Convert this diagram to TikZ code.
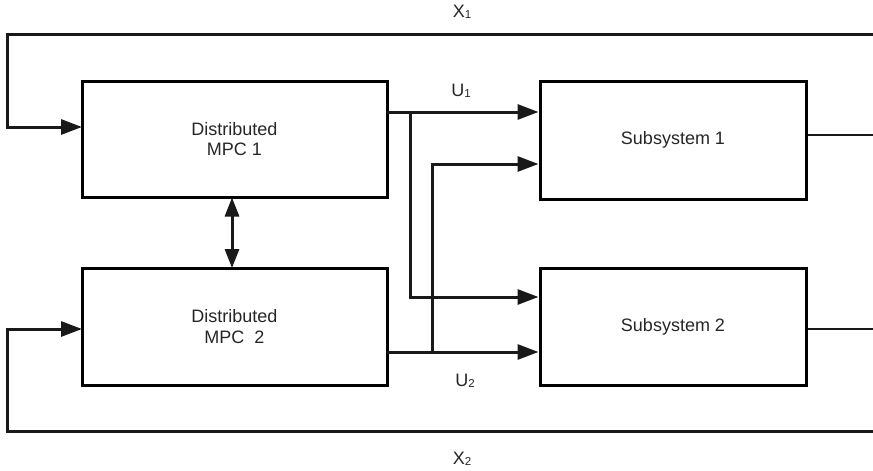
\documentclass[tikz,border=0pt]{standalone}
\usepackage{fontspec}
\setmainfont{Liberation Sans}
\usetikzlibrary{arrows.meta}
\newcommand{\sbs}[1]{{\fontsize{11.5}{11.5}\selectfont\raisebox{-1.5pt}{#1}}}
\begin{document}
\begin{tikzpicture}[x=1pt,y=-1pt,
  blk/.style={draw, line width=3pt, minimum width=#1, inner sep=0pt, align=center,
    font=\fontsize{18}{20.5}\selectfont, text=black!85},
  wire/.style={line width=3pt, draw=black!90},
  arr/.style={wire, -{Triangle[length=21pt,width=15pt]}},
  dbl/.style={wire, {Triangle[length=19pt,width=14pt]}-{Triangle[length=19pt,width=14pt]}},
  lbl/.style={font=\fontsize{18}{20}\selectfont, text=black!85, inner sep=0pt}]
\useasboundingbox (0,0) rectangle (873,471);
\node[blk=305pt, minimum height=116pt] (mpc1) at (234.5,139) {Distributed\\MPC 1};
\node[blk=305pt, minimum height=117pt] (mpc2) at (234.5,326.5) {Distributed\\MPC\ \ 2};
\node[blk=266pt, minimum height=118pt] (sub1) at (673,140) {Subsystem 1};
\node[blk=266pt, minimum height=117pt] (sub2) at (673,326.5) {Subsystem 2};
% feedback X1
\coordinate (x1r) at (875,34);
\coordinate (x1l) at (7,34);
\coordinate (in1) at (82,127);
\draw[arr] (x1r) -- (x1l) |- (in1);
% feedback X2
\coordinate (x2r) at (875,431);
\coordinate (x2l) at (7,431);
\coordinate (in2) at (82,329);
\draw[arr] (x2r) -- (x2l) |- (in2);
% outputs
\coordinate (o1) at (875,135);
\coordinate (o2) at (875,329);
\draw[wire, line width=2.6pt] (sub1.east |- o1) -- (o1);
\draw[wire, line width=2.6pt] (sub2.east |- o2) -- (o2);
% U1
\coordinate (u1s) at (387,112);
\coordinate (u1b) at (410,112);
\coordinate (u1d) at (410,297);
\draw[arr] (u1s) -- (sub1.west |- u1s);
\draw[arr] (u1b) -- (u1d) -- (sub2.west |- u1d);
% U2
\coordinate (u2s) at (387,352);
\coordinate (u2b) at (432,352);
\coordinate (u2u) at (432,164);
\draw[arr] (u2s) -- (sub2.west |- u2s);
\draw[arr] (u2b) -- (u2u) -- (sub1.west |- u2u);
% MPC exchange
\coordinate (d1) at (232,197.5);
\coordinate (d2) at (232,268);
\draw[dbl] (d1) -- (d2);
% labels
\node[lbl] (lx1) at (462,12) {X\sbs{1}};
\node[lbl] (lu1) at (461,91) {U\sbs{1}};
\node[lbl] (lu2) at (465,381) {U\sbs{2}};
\node[lbl] (lx2) at (462,459) {X\sbs{2}};
\end{tikzpicture}
\end{document}
